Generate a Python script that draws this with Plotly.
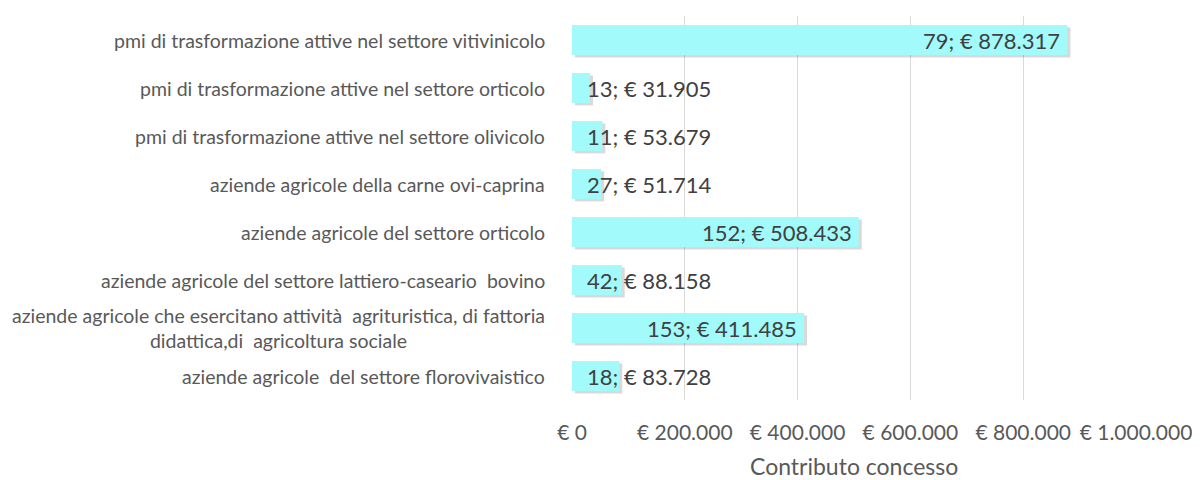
import plotly.graph_objects as go

categories = [
    "pmi di trasformazione attive nel settore vitivinicolo",
    "pmi di trasformazione attive nel settore orticolo",
    "pmi di trasformazione attive nel settore olivicolo",
    "aziende agricole della carne ovi-caprina",
    "aziende agricole del settore orticolo",
    "aziende agricole del settore lattiero-caseario \u00a0bovino",
    "aziende agricole che esercitano attività \u00a0agrituristica, di fattoria<br>didattica,di \u00a0agricoltura sociale",
    "aziende agricole \u00a0del settore florovivaistico",
]
counts = [79, 13, 11, 27, 152, 42, 153, 18]
amounts = [878317, 31905, 53679, 51714, 508433, 88158, 411485, 83728]
amount_labels = ["€ 878.317", "€ 31.905", "€ 53.679", "€ 51.714", "€ 508.433", "€ 88.158", "€ 411.485", "€ 83.728"]
tick_vals = [0, 200000, 400000, 600000, 800000, 1000000]
tick_text = ["€ 0", "€ 200.000", "€ 400.000", "€ 600.000", "€ 800.000", "€ 1.000.000"]
x_max = 1000000

FONT = "Lato"
ypos = list(range(len(categories)))[::-1]

# layout geometry in figure pixels (page has 8px body margin)
L, R, T, B = 564, 72, 8, 88
W, H = 1200, 480
plot_w = W - L - R
plot_h = H - T - B
shadow_dx = 3 / plot_w * x_max
BW = 0.625

fig = go.Figure()
# soft drop shadow (same data, drawn on a slightly shifted overlay axis)
fig.add_trace(go.Bar(
    x=amounts, y=ypos, orientation="h", xaxis="x2",
    marker=dict(color="rgba(0,0,0,0.15)", line=dict(width=0)),
    width=BW, offset=-BW / 2 - 0.05, hoverinfo="skip",
))
fig.add_trace(go.Bar(
    x=amounts, y=ypos, orientation="h", xaxis="x3",
    marker=dict(color="#A2FAFA", line=dict(width=0)),
    width=BW, offset=-BW / 2, hoverinfo="skip",
))

ann = []
for c, yv in zip(categories, ypos):
    ann.append(dict(x=0, xref="paper", y=yv, yref="y", text=c, showarrow=False,
                    xanchor="right", xshift=-25, align="center",
                    font=dict(family=FONT, size=19.5, color="#595959")))
for n, a, lbl, yv in zip(counts, amounts, amount_labels, ypos):
    txt = f"{n}; {lbl}"
    if a > 200000:
        ann.append(dict(x=a, y=yv, xref="x", yref="y", text=txt, showarrow=False,
                        xanchor="right", xshift=-5,
                        font=dict(family=FONT, size=22, color="#404040")))
    else:
        ann.append(dict(x=0, y=yv, xref="x", yref="y", text=txt, showarrow=False,
                        xanchor="left", xshift=13,
                        font=dict(family=FONT, size=22, color="#404040")))
ann.append(dict(x=0.5, xref="paper", y=-(458 - (T + plot_h)) / plot_h, yref="paper",
                text="Contributo concesso", showarrow=False, xanchor="center", yanchor="middle",
                font=dict(family=FONT, size=23, color="#595959")))

fig.update_layout(
    width=W, height=H,
    margin=dict(l=L, r=R, t=T, b=B),
    plot_bgcolor="white", paper_bgcolor="white",
    showlegend=False,
    annotations=ann,
    xaxis=dict(range=[0, x_max], tickvals=tick_vals, ticktext=tick_text,
               showgrid=True, gridcolor="#D9D9D9", gridwidth=1, zeroline=False,
               showline=False, ticks="outside", ticklen=14, tickcolor="rgba(0,0,0,0)",
               tickfont=dict(family=FONT, size=21, color="#595959")),
    xaxis2=dict(range=[-shadow_dx, x_max - shadow_dx], overlaying="x", visible=False),
    xaxis3=dict(range=[0, x_max], overlaying="x", visible=False),
    yaxis=dict(range=[-0.5, len(categories) - 0.5], showticklabels=False,
               showgrid=False, zeroline=False, showline=False),
)
fig.write_html("out.html")
